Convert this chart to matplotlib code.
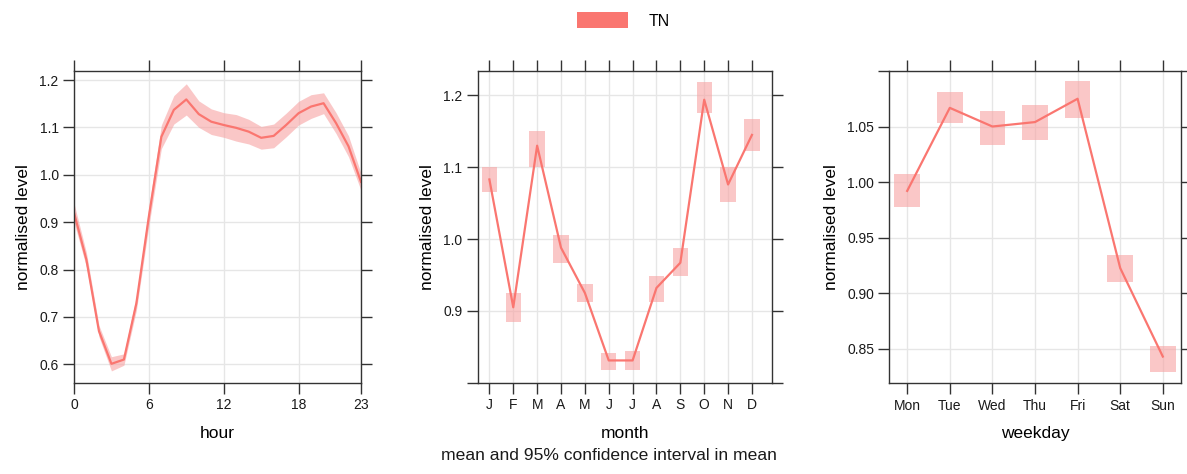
import matplotlib
matplotlib.use("Agg")
import matplotlib.pyplot as plt
from matplotlib.patches import Patch

plt.rcParams['font.family'] = ['Liberation Sans', 'DejaVu Sans']

# ---- data ----
hours = list(range(24))
hour_mean = [0.92, 0.82, 0.67, 0.601, 0.61, 0.729, 0.912, 1.08, 1.137, 1.159,
             1.128, 1.112, 1.105, 1.099, 1.091, 1.078, 1.082, 1.105, 1.13, 1.144,
             1.151, 1.109, 1.06, 0.985]
hour_lower = [0.90, 0.805, 0.658, 0.586, 0.598, 0.714, 0.892, 1.055, 1.107, 1.126,
              1.100, 1.085, 1.079, 1.071, 1.065, 1.054, 1.057, 1.080, 1.105, 1.119,
              1.129, 1.087, 1.038, 0.967]
hour_upper = [0.94, 0.835, 0.682, 0.616, 0.622, 0.744, 0.932, 1.105, 1.167, 1.192,
              1.156, 1.139, 1.131, 1.127, 1.117, 1.102, 1.107, 1.130, 1.155, 1.169,
              1.173, 1.131, 1.082, 1.003]
hour_ticks = [0, 6, 12, 18, 23]

months = ['J', 'F', 'M', 'A', 'M', 'J', 'J', 'A', 'S', 'O', 'N', 'D']
month_mean = [1.083, 0.905, 1.130, 0.988, 0.925, 0.831, 0.831, 0.932, 0.967, 1.194, 1.076, 1.145]
month_lower = [1.066, 0.885, 1.101, 0.967, 0.913, 0.817, 0.817, 0.913, 0.948, 1.175, 1.051, 1.123]
month_upper = [1.101, 0.925, 1.151, 1.005, 0.937, 0.842, 0.844, 0.948, 0.988, 1.219, 1.100, 1.167]

days = ['Mon', 'Tue', 'Wed', 'Thu', 'Fri', 'Sat', 'Sun']
day_mean = [0.992, 1.0668, 1.050, 1.054, 1.075, 0.9225, 0.8428]
day_lower = [0.9775, 1.0533, 1.0332, 1.0374, 1.0575, 0.9096, 0.8292]
day_upper = [1.0076, 1.0807, 1.0644, 1.069, 1.0906, 0.9345, 0.8524]

line_col = '#FA7670'
fill_col = '#F7A3A3'
grid_col = '#E6E6E6'
frame_col = '#333333'

W, H = 1187, 474
fig = plt.figure(figsize=(W / 100, H / 100), dpi=100)

def ax_at(l, r, t, b):
    return fig.add_axes([l / W, 1 - b / H, (r - l) / W, (b - t) / H])

ax1 = ax_at(74, 361, 71, 383)
ax2 = ax_at(477.7, 772, 71, 382.7)
ax3 = ax_at(889.3, 1180.7, 71, 383.3)

def style(ax):
    for s in ax.spines.values():
        s.set_color(frame_col)
        s.set_linewidth(1.0)
    ax.tick_params(direction='out', length=8, width=1.0, color=frame_col,
                   top=True, right=True, labelsize=10, pad=3,
                   labelcolor='#1a1a1a')
    ax.grid(True, color=grid_col, linewidth=1.0)
    ax.set_axisbelow(True)
    ax.set_ylabel('normalised level', fontsize=12.5, labelpad=6)

# hour panel
ax1.fill_between(hours, hour_lower, hour_upper, color=fill_col, alpha=0.6, lw=0)
ax1.plot(hours, hour_mean, color=line_col, lw=1.6)
ax1.set_xlim(0, 23)
ax1.set_ylim(0.5605, 1.219)
ax1.set_xticks(hour_ticks)
ax1.set_yticks([0.6, 0.7, 0.8, 0.9, 1.0, 1.1, 1.2])
ax1.set_xlabel('hour', fontsize=12.5, labelpad=10)
style(ax1)

# month panel
mx = list(range(1, 13))
ax2.bar(mx, [u - l for u, l in zip(month_upper, month_lower)], bottom=month_lower,
        width=0.64, color=fill_col, alpha=0.6, lw=0)
ax2.plot(mx, month_mean, color=line_col, lw=1.6)
ax2.set_xlim(0.51, 12.84)
ax2.set_ylim(0.801, 1.234)
ax2.set_xticks(mx)
ax2.set_xticklabels(months)
ax2.set_yticks([0.8, 0.9, 1.0, 1.1, 1.2])
ax2.set_yticklabels(['', '0.9', '1.0', '1.1', '1.2'])
ax2.set_xlabel('month', fontsize=12.5, labelpad=10)
style(ax2)

# weekday panel
dx = list(range(1, 8))
ax3.bar(dx, [u - l for u, l in zip(day_upper, day_lower)], bottom=day_lower,
        width=0.6, color=fill_col, alpha=0.6, lw=0)
ax3.plot(dx, day_mean, color=line_col, lw=1.6)
ax3.set_xlim(0.58, 7.42)
ax3.set_ylim(0.8187, 1.0995)
ax3.set_xticks(dx)
ax3.set_xticklabels(days)
ax3.set_yticks([0.85, 0.90, 0.95, 1.00, 1.05, 1.10])
ax3.set_yticklabels(['0.85', '0.90', '0.95', '1.00', '1.05', ''])
ax3.set_xlabel('weekday', fontsize=12.5, labelpad=10)
style(ax3)

fig.text(609 / W, 1 - 456 / H, 'mean and 95% confidence interval in mean',
         fontsize=12.6, ha='center', va='center', color='#1a1a1a')

fig.legend(handles=[Patch(color=line_col, lw=0)], labels=['TN'],
           loc='upper center', bbox_to_anchor=(0.525, 1.005), frameon=False,
           fontsize=11.5, handlelength=3.2, handleheight=1.2, handletextpad=1.3)

fig.savefig('out.png', dpi=100)
